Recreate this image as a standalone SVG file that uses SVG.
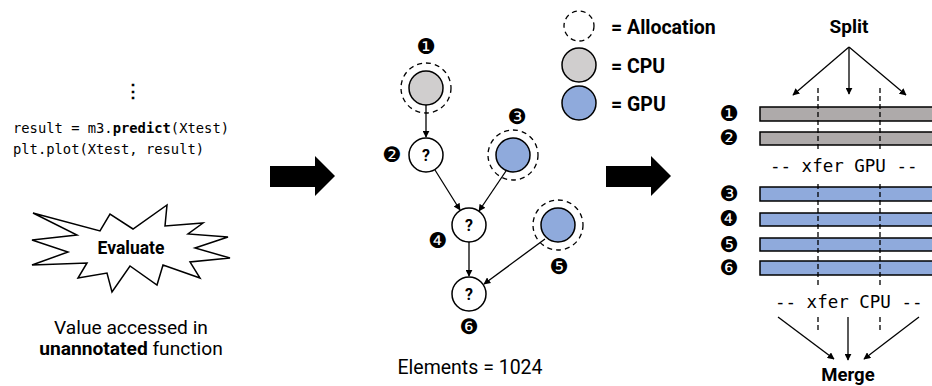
<svg xmlns="http://www.w3.org/2000/svg" width="932" height="386" viewBox="0 0 932 386">
  <defs>
    <marker id="arr" viewBox="0 0 10 10" refX="9" refY="5" markerWidth="7" markerHeight="7" markerUnits="userSpaceOnUse" orient="auto">
      <path d="M0,0 L10,5 L0,10 z" fill="#000"/>
    </marker>
    <style>
      .mono { font-family: "DejaVu Sans Mono", "Liberation Mono", monospace; fill: #000; }
      .sans { font-family: Roboto, "Liberation Sans", sans-serif; fill: #000; }
      .bold { font-family: Roboto, "Liberation Sans", sans-serif; font-weight: bold; fill: #000; }
      .num { font-family: "DejaVu Sans", sans-serif; font-size: 21.5px; text-anchor: middle; fill: #000; }
      .node { stroke: #000; stroke-width: 1.5; }
      .alloc { fill: none; stroke: #000; stroke-width: 1.3; stroke-dasharray: 5 4; }
      .edge { stroke: #000; stroke-width: 1.3; fill: none; marker-end: url(#arr); }
      .cpu { fill: #D0CECE; }
      .gpu { fill: #8FAADC; }
      .white { fill: #fff; }
      .bar { stroke: #000; stroke-width: 1.5; }
      .barcpu { fill: #AEAAAA; }
      .vdash { stroke: #000; stroke-width: 1.3; stroke-dasharray: 5 3; }
    </style>
  </defs>

  <!-- code snippet and evaluation trigger -->
  <g id="code">
    <text class="sans" x="133" y="97" font-size="18" text-anchor="middle" font-weight="bold">⋮</text>
    <text class="mono" x="13" y="133" font-size="13.8">result = m3.<tspan font-weight="bold">predict</tspan>(Xtest)</text>
    <text class="mono" x="13" y="154" font-size="13.8">plt.plot(Xtest, result)</text>
  </g>
  <g id="evaluate">
    <polygon points="33,213 100,231 110,214 133,229 167,205 165,226 203,223 188,234 228,237 195,248 230,258 190,262 200,278 163,265 157,285 130,266 112,292 107,273 78,278 87,263 32,265 68,252 32,240 77,235" fill="#fff" stroke="#000" stroke-width="1.5"/>
    <text class="bold" x="131" y="254" font-size="17.5" text-anchor="middle">Evaluate</text>
    <text class="sans" x="131" y="334" font-size="19.2" text-anchor="middle">Value accessed in</text>
    <text class="sans" x="131" y="355" font-size="19.2" text-anchor="middle"><tspan font-weight="bold">unannotated</tspan> function</text>
  </g>

  <!-- large block arrows -->
  <g id="arrow1">
    <polygon points="270,166 315,166 315,156 335,176 315,196 315,187 270,187" fill="#000"/>
  </g>
  <g id="arrow2">
    <polygon points="606,166 651,166 651,156 671,176 651,196 651,187 606,187" fill="#000"/>
  </g>

  <!-- legend -->
  <g id="legend">
    <circle class="alloc" cx="579" cy="26" r="15"/>
    <circle class="node cpu" cx="579" cy="65" r="17"/>
    <circle class="node gpu" cx="579" cy="103" r="17"/>
    <text class="bold" x="611" y="34" font-size="19.5">= Allocation</text>
    <text class="bold" x="611" y="73" font-size="19.5">= CPU</text>
    <text class="bold" x="611" y="111" font-size="19.5">= GPU</text>
  </g>

  <!-- graph connectors -->
  <g id="edges">
    <line class="edge" x1="426" y1="105" x2="426" y2="137"/>
    <line class="edge" x1="435" y1="170" x2="460" y2="210"/>
    <line class="edge" x1="506" y1="171" x2="479" y2="211"/>
    <line class="edge" x1="469" y1="242" x2="469" y2="276"/>
    <line class="edge" x1="545" y1="239" x2="484" y2="284"/>
  </g>

  <!-- graph nodes -->
  <g id="node1">
    <circle class="alloc" cx="426" cy="88" r="25"/>
    <circle class="node cpu" cx="426" cy="88" r="17"/>
    <text class="num" x="426" y="54">❶</text>
  </g>
  <g id="node2">
    <circle class="node white" cx="426" cy="155" r="17"/>
    <text class="bold" x="426" y="161" font-size="16" text-anchor="middle">?</text>
    <text class="num" x="392" y="162">❷</text>
  </g>
  <g id="node3">
    <circle class="alloc" cx="513" cy="155" r="25"/>
    <circle class="node gpu" cx="513" cy="155" r="17"/>
    <text class="num" x="517" y="124">❸</text>
  </g>
  <g id="node4">
    <circle class="node white" cx="469" cy="225" r="17"/>
    <text class="bold" x="469" y="231" font-size="16" text-anchor="middle">?</text>
    <text class="num" x="438" y="248">❹</text>
  </g>
  <g id="node5">
    <circle class="alloc" cx="558" cy="225" r="25"/>
    <circle class="node gpu" cx="558" cy="225" r="17"/>
    <text class="num" x="559" y="274">❺</text>
  </g>
  <g id="node6">
    <circle class="node white" cx="469" cy="294" r="17"/>
    <text class="bold" x="469" y="300" font-size="16" text-anchor="middle">?</text>
    <text class="num" x="469" y="334">❻</text>
  </g>
  <text class="sans" x="470" y="374" font-size="19.5" text-anchor="middle">Elements = 1024</text>

  <!-- split / merge view -->
  <g id="split">
    <text class="bold" x="849" y="33" font-size="19" text-anchor="middle">Split</text>
    <line class="edge" x1="849" y1="47" x2="793" y2="95"/>
    <line class="edge" x1="849" y1="47" x2="849" y2="94"/>
    <line class="edge" x1="849" y1="47" x2="906" y2="95"/>
  </g>
  <g id="bars">
    <rect class="bar barcpu" x="760" y="107" width="190" height="14"/>
    <rect class="bar barcpu" x="760" y="132" width="190" height="13"/>
    <rect class="bar gpu" x="760" y="187" width="190" height="14"/>
    <rect class="bar gpu" x="760" y="213" width="190" height="13"/>
    <rect class="bar gpu" x="760" y="238" width="190" height="13"/>
    <rect class="bar gpu" x="760" y="261" width="190" height="14"/>
    <text class="num" x="729" y="121">❶</text>
    <text class="num" x="729" y="145">❷</text>
    <text class="num" x="729" y="201">❸</text>
    <text class="num" x="729" y="226">❹</text>
    <text class="num" x="729" y="252">❺</text>
    <text class="num" x="729" y="275">❻</text>
  </g>
  <g id="chunks">
    <line class="vdash" x1="818" y1="88" x2="818" y2="152"/>
    <line class="vdash" x1="880" y1="88" x2="880" y2="152"/>
    <line class="vdash" x1="818" y1="184" x2="818" y2="285"/>
    <line class="vdash" x1="880" y1="184" x2="880" y2="285"/>
    <line class="vdash" x1="818" y1="317" x2="818" y2="333"/>
    <line class="vdash" x1="880" y1="317" x2="880" y2="333"/>
    <text class="mono" x="770" y="172" font-size="17.5">-- xfer GPU --</text>
    <text class="mono" x="775" y="308" font-size="17.5">-- xfer CPU --</text>
  </g>
  <g id="merge">
    <line class="edge" x1="778" y1="317" x2="834" y2="359"/>
    <line class="edge" x1="848" y1="317" x2="848" y2="360"/>
    <line class="edge" x1="919" y1="317" x2="864" y2="359"/>
    <text class="bold" x="848" y="381" font-size="18.5" text-anchor="middle">Merge</text>
  </g>
</svg>
